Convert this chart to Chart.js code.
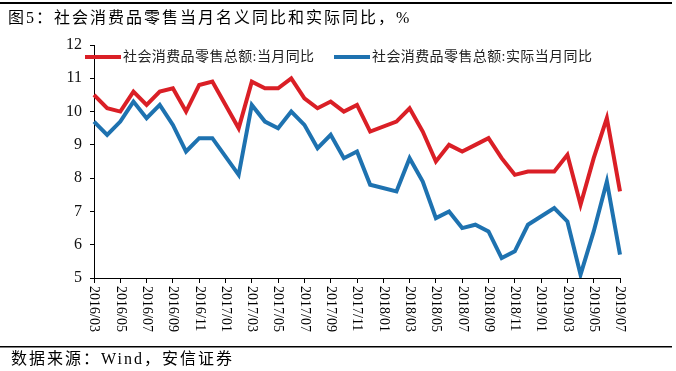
<!DOCTYPE html>
<html>
<head>
<meta charset="utf-8">
<script src="https://cdn.jsdelivr.net/npm/chart.js@4/dist/chart.umd.min.js"></script>
<style>
  html, body { margin: 0; padding: 0; background: #fff; }
  #wrap { width: 676px; height: 371px; position: relative; }
</style>
</head>
<body>
<div id="wrap"><canvas id="myChart" width="676" height="371"></canvas></div>
<script>
// months 2016/03 .. 2019/07, January has no separate release (null)
var months = [
  '2016/03','2016/04','2016/05','2016/06','2016/07','2016/08','2016/09','2016/10','2016/11','2016/12',
  '2017/01','2017/02','2017/03','2017/04','2017/05','2017/06','2017/07','2017/08','2017/09','2017/10','2017/11','2017/12',
  '2018/01','2018/02','2018/03','2018/04','2018/05','2018/06','2018/07','2018/08','2018/09','2018/10','2018/11','2018/12',
  '2019/01','2019/02','2019/03','2019/04','2019/05','2019/06','2019/07'
];
var nominal = [
  10.5, 10.1, 10.0, 10.6, 10.2, 10.6, 10.7, 10.0, 10.8, 10.9,
  null, 9.5, 10.9, 10.7, 10.7, 11.0, 10.4, 10.1, 10.3, 10.0, 10.2, 9.4,
  null, 9.7, 10.1, 9.4, 8.5, 9.0, 8.8, 9.0, 9.2, 8.6, 8.1, 8.2,
  null, 8.2, 8.7, 7.2, 8.6, 9.8, 7.6
];
var real = [
  9.7, 9.3, 9.7, 10.3, 9.8, 10.2, 9.6, 8.8, 9.2, 9.2,
  null, 8.1, 10.2, 9.7, 9.5, 10.0, 9.6, 8.9, 9.3, 8.6, 8.8, 7.8,
  null, 7.6, 8.6, 7.9, 6.8, 7.0, 6.5, 6.6, 6.4, 5.6, 5.8, 6.6,
  null, 7.1, 6.7, 5.1, 6.4, 7.9, 5.7
];
var seriesNames = ['社会消费品零售总额:当月同比', '社会消费品零售总额:实际当月同比'];
var titleText = '图5：社会消费品零售当月名义同比和实际同比，%';
var sourceText = '数据来源：Wind，安信证券';

var serif = '"Liberation Serif", "Noto Sans CJK SC", serif';

// title, frame lines, footer, rotated x labels and legend
var decor = {
  id: 'decor',
  afterDraw: function(chart) {
    var c = chart.ctx;
    var xs = chart.scales.x;
    c.save();
    // top rule
    c.fillStyle = '#000';
    c.fillRect(0, 2, 672, 2);
    // title
    c.font = '16px ' + serif;
    c.letterSpacing = '2px';
    c.textBaseline = 'middle';
    c.textAlign = 'left';
    c.fillText(titleText, 8, 19);
    c.letterSpacing = '0px';
    // x tick labels, reading top to bottom
    c.font = '14px ' + serif;
    for (var i = 0; i < months.length; i += 2) {
      var x = xs.getPixelForValue(i);
      c.save();
      c.translate(x, 286);
      c.rotate(Math.PI / 2);
      c.textAlign = 'left';
      c.textBaseline = 'middle';
      c.fillText(months[i], 0, 0);
      c.restore();
    }
    // footer rule and source
    c.fillRect(0, 346, 672, 1.5);
    c.font = '16px ' + serif;
    c.letterSpacing = '2px';
    c.fillText(sourceText, 11, 360);
    c.letterSpacing = '0px';
    // legend
    var lx = [85, 334];
    c.font = '14px ' + serif;
    c.letterSpacing = '0.4px';
    chart.data.datasets.forEach(function(ds, k) {
      c.strokeStyle = ds.borderColor;
      c.lineWidth = 4;
      c.beginPath();
      c.moveTo(lx[k], 57);
      c.lineTo(lx[k] + 36, 57);
      c.stroke();
      c.fillStyle = '#222';
      c.fillText(ds.label, lx[k] + 38, 57);
    });
    c.restore();
  }
};

var ctx = document.getElementById('myChart').getContext('2d');
var chart = new Chart(ctx, {
  type: 'line',
  data: {
    labels: months,
    datasets: [{
      label: seriesNames[0],
      data: nominal,
      borderColor: 'rgb(218, 31, 38)',
      backgroundColor: 'rgb(218, 31, 38)',
      borderWidth: 4,
      pointRadius: 0,
      tension: 0,
      spanGaps: true,
      borderJoinStyle: 'miter'
    }, {
      label: seriesNames[1],
      data: real,
      borderColor: 'rgb(30, 114, 176)',
      backgroundColor: 'rgb(30, 114, 176)',
      borderWidth: 4,
      pointRadius: 0,
      tension: 0,
      spanGaps: true,
      borderJoinStyle: 'miter'
    }]
  },
  options: {
    responsive: false,
    animation: false,
    layout: { padding: { left: 0, right: 56, top: 45, bottom: 0 } },
    plugins: { legend: { display: false }, tooltip: { enabled: false } },
    scales: {
      x: {
        offset: false,
        afterFit: function(s) { s.height = 93; },
        grid: {
          drawOnChartArea: false,
          drawTicks: true,
          tickLength: 5,
          color: '#000',
          tickColor: function(c) { return c.index % 2 ? 'rgba(0,0,0,0)' : '#000'; }
        },
        border: { color: '#000', width: 1 },
        ticks: { display: false, autoSkip: false }
      },
      y: {
        min: 5,
        max: 12,
        afterFit: function(s) { s.width = 94; },
        grid: { drawOnChartArea: false, drawTicks: true, tickLength: 4, color: '#000' },
        border: { color: '#000', width: 1 },
        ticks: {
          stepSize: 1,
          color: '#111',
          padding: 8,
          font: { family: serif, size: 16 }
        }
      }
    }
  },
  plugins: [decor]
});
</script>
</body>
</html>
